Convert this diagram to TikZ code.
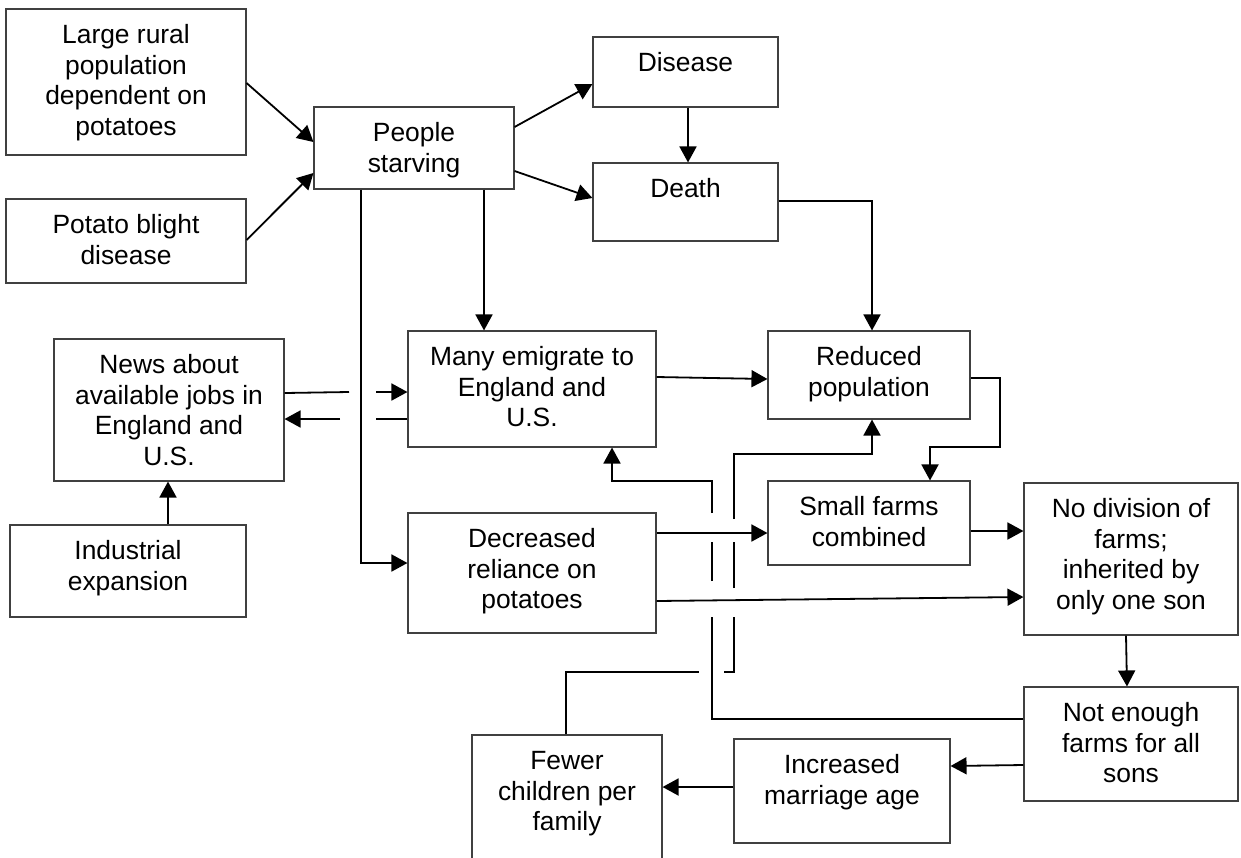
\documentclass[tikz,border=0pt]{standalone}
\usepackage{fontspec}
\setmainfont{Liberation Sans}
\usetikzlibrary{arrows.meta,calc,fit}
\newcommand\mybox[6]{%
  \coordinate (#1-a) at (#2,#3);
  \coordinate (#1-b) at (#4,#5);
  \node[box, fit=(#1-a)(#1-b)] (#1) {};
  \node[txt] (#1-t) at ($(#1.north)+(0,11)$) {\rule{0pt}{12pt}#6};}
\begin{document}
\begin{tikzpicture}[x=0.5pt,y=-0.5pt,
  box/.style={draw=black!75, line width=0.55pt, inner sep=0pt, rectangle},
  txt/.style={anchor=north, align=center, inner sep=0pt, font=\fontsize{13.2}{15.25}\selectfont},
  conn/.style={line width=0.9pt, black},
  arr/.style={conn, -{Triangle[length=8pt,width=8.5pt]}}]
\useasboundingbox (0,0) rectangle (1241,857);
\clip (0,0) rectangle (1241,857);
\fill[white] (0,0) rectangle (1241,857);

\mybox{b1}{6}{9}{246}{155}{Large rural\\population\\dependent on\\potatoes}
\mybox{pb}{6}{199}{246}{283}{Potato blight\\disease}
\mybox{ps}{314}{107}{514}{189}{People\\starving}
\mybox{dis}{593}{37}{778}{107}{Disease}
\mybox{dea}{593}{163}{778}{241}{Death}
\mybox{news}{54}{339}{284}{481}{News about\\available jobs in\\England and\\U.S.}
\mybox{ind}{10}{525}{246}{617}{Industrial\\expansion}
\mybox{me}{408}{331}{656}{447}{Many emigrate to\\England and\\U.S.}
\mybox{red}{768}{331}{970}{419}{Reduced\\population}
\mybox{dec}{408}{513}{656}{633}{Decreased\\reliance on\\potatoes}
\mybox{sf}{768}{481}{970}{565}{Small farms\\combined}
\mybox{nd}{1024}{483}{1238}{635}{No division of\\farms;\\inherited by\\only one son}
\mybox{ne}{1024}{687}{1238}{801}{Not enough\\farms for all\\sons}
\mybox{ima}{734}{739}{950}{843}{Increased\\marriage age}
\mybox{fc}{472}{735}{662}{890}{Fewer\\children per\\family}

\draw[arr] (b1.east |- 0,83) -- (ps.west |- 0,142);
\draw[arr] (pb.east |- 0,240) -- (ps.west |- 0,173);
\draw[arr] (ps.east |- 0,127) -- (dis.west |- 0,84);
\draw[arr] (ps.east |- 0,171) -- (dea.west |- 0,198);
\draw[arr] (dis.south -| 688,0) -- (dea.north -| 688,0);
\draw[arr] (dea.east |- 0,201) -| (red.north -| 872,0);
\draw[arr] (ps.south -| 361,0) |- (dec.west |- 0,563);
\draw[arr] (ps.south -| 484,0) -- (me.north -| 484,0);

\coordinate (g1a) at (349,392); \coordinate (g1b) at (376,392);
\draw[conn] (news.east |- 0,393) -- (g1a);
\draw[arr] (g1b) -- (me.west |- 0,392);
\coordinate (g2a) at (376,419); \coordinate (g2b) at (340,419);
\draw[conn] (me.west |- 0,419) -- (g2a);
\draw[arr] (g2b) -- (news.east |- 0,419);

\draw[arr] (ind.north -| 168,0) -- (news.south -| 168,0);
\draw[arr] (me.east |- 0,377) -- (red.west |- 0,379);
\draw[arr] (dec.east |- 0,533) -- (sf.west |- 0,533);
\draw[arr] (dec.east |- 0,601) -- (nd.west |- 0,597);
\draw[arr] (red.east |- 0,378) -- (1000,378) -- (1000,447) -- (930,447) -- (sf.north -| 930,0);
\draw[arr] (sf.east |- 0,531) -- (nd.west |- 0,531);
\draw[arr] (nd.south -| 1126,0) -- (ne.north -| 1127,0);
\draw[arr] (ne.west |- 0,765) -- (ima.east |- 0,766);
\draw[arr] (ima.west |- 0,787) -- (fc.east |- 0,787);

% Not enough farms -> Many emigrate (with line hops)
\draw[conn] (ne.west |- 0,719) -- (712,719) -- (712,617);
\draw[conn] (712,581) -- (712,542);
\draw[arr] (712,513) -- (712,481) -- (612,481) -- (me.south -| 612,0);

% Fewer children -> Reduced population (with line hops)
\draw[conn] (fc.north -| 566,0) -- (566,672) -- (699,672);
\draw[conn] (724,672) -- (734,672) -- (734,617);
\draw[conn] (734,588) -- (734,542);
\draw[arr] (734,519) -- (734,454) -- (872,454) -- (red.south -| 872,0);
\end{tikzpicture}
\end{document}
